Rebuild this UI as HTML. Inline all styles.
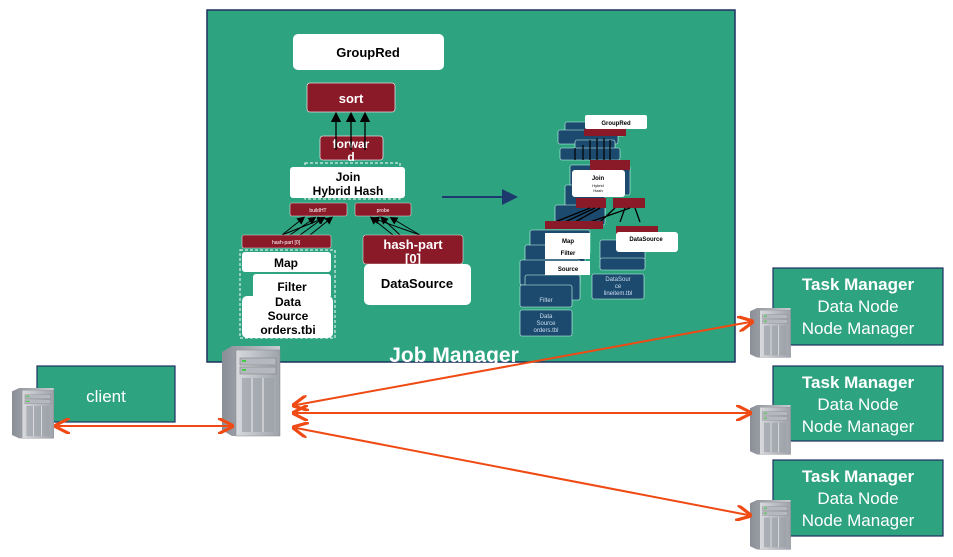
<!DOCTYPE html>
<html><head><meta charset="utf-8"><style>
html,body{margin:0;padding:0;background:#fff;}
svg{display:block;font-family:"Liberation Sans",Arial,sans-serif;}
</style></head><body>
<svg width="953" height="557" viewBox="0 0 953 557" xmlns="http://www.w3.org/2000/svg">
<defs>
<marker id="bk" markerWidth="8" markerHeight="8" refX="4" refY="4" orient="auto"><path d="M0,0 L8,4 L0,8 z" fill="#000"/></marker>
<marker id="or" markerWidth="8" markerHeight="8" refX="6" refY="4" orient="auto-start-reverse"><path d="M0,0 L8,4 L0,8" fill="none" stroke="#f04a14" stroke-width="1.6"/></marker>
<marker id="nv" markerWidth="8" markerHeight="8" refX="6" refY="4" orient="auto"><path d="M0,0 L8,4 L0,8 z" fill="#1d3a6e"/></marker>
<linearGradient id="sv" x1="0" x2="1"><stop offset="0" stop-color="#8a8e96"/><stop offset="1" stop-color="#c8cbd1"/></linearGradient>
<linearGradient id="sf" x1="0" x2="1"><stop offset="0" stop-color="#d8dade"/><stop offset="1" stop-color="#9ea2aa"/></linearGradient>
<g id="server">
<path d="M0,6 L10,0 L58,0 L58,90 L10,90 L0,84 z" fill="url(#sv)"/>
<rect x="14" y="4" width="44" height="86" fill="url(#sf)" stroke="#888" stroke-width="0.5"/>
<rect x="18" y="12" width="36" height="7" fill="#b5b8be" stroke="#777" stroke-width="0.5"/>
<rect x="18" y="21" width="36" height="7" fill="#b5b8be" stroke="#777" stroke-width="0.5"/>
<rect x="20" y="14" width="4" height="2" fill="#4c4"/><rect x="20" y="23" width="4" height="2" fill="#4c4"/>
<rect x="20" y="32" width="32" height="54" fill="#9da1a8" opacity="0.7"/>
<path d="M30,32 V86 M41,32 V86" stroke="#eee" stroke-width="1"/>
</g>
</defs>

<rect x="207" y="10" width="528" height="352" fill="#2ea37f" stroke="#1e3060" stroke-width="1.5"/>

<rect x="293" y="34" width="151" height="36" rx="5" fill="#fff"/>
<text x="368" y="57" font-size="13" font-weight="bold" text-anchor="middle">GroupRed</text>
<rect x="307" y="83" width="88" height="29" rx="3" fill="#8b1a28" stroke="#ddd" stroke-width="0.8"/>
<text x="351" y="103" font-size="13" font-weight="bold" fill="#fff" text-anchor="middle">sort</text>
<rect x="320" y="136" width="63" height="24" rx="3" fill="#8b1a28" stroke="#ddd" stroke-width="0.8"/>
<text x="351" y="148" font-size="12" font-weight="bold" fill="#fff" text-anchor="middle">forwar</text>
<text x="351" y="161" font-size="12" font-weight="bold" fill="#fff" text-anchor="middle">d</text>
<g stroke="#000" stroke-width="1.3" marker-end="url(#bk)"><line x1="336" y1="150" x2="336" y2="117"/><line x1="351" y1="150" x2="351" y2="117"/><line x1="365" y1="150" x2="365" y2="117"/></g>
<rect x="305" y="163" width="95" height="36" fill="none" stroke="#fff" stroke-dasharray="3,2"/>
<rect x="290" y="167" width="115" height="31" rx="3" fill="#fff"/>
<text x="348" y="181" font-size="12" font-weight="bold" text-anchor="middle">Join</text>
<text x="348" y="195" font-size="12" font-weight="bold" text-anchor="middle">Hybrid Hash</text>
<rect x="290" y="203" width="57" height="13" rx="2" fill="#8b1a28" stroke="#ddd" stroke-width="0.6"/>
<text x="318" y="212" font-size="5" fill="#fff" text-anchor="middle">buildHT</text>
<rect x="355" y="203" width="56" height="13" rx="2" fill="#8b1a28" stroke="#ddd" stroke-width="0.6"/>
<text x="383" y="212" font-size="5" fill="#fff" text-anchor="middle">probe</text>
<g stroke="#000" stroke-width="1" marker-end="url(#bk)">
<line x1="282" y1="235" x2="302" y2="219"/><line x1="290" y1="235" x2="313" y2="219"/><line x1="300" y1="235" x2="322" y2="219"/><line x1="310" y1="235" x2="330" y2="219"/><line x1="282" y1="235" x2="322" y2="219"/>
<line x1="393" y1="235" x2="373" y2="219"/><line x1="400" y1="235" x2="383" y2="219"/><line x1="420" y1="235" x2="393" y2="219"/><line x1="420" y1="235" x2="375" y2="219"/>
</g>
<rect x="242" y="235" width="89" height="13" rx="2" fill="#8b1a28" stroke="#ddd" stroke-width="0.6"/>
<text x="286" y="244" font-size="5" fill="#fff" text-anchor="middle">hash-part [0]</text>
<rect x="363" y="235" width="100" height="29" rx="3" fill="#8b1a28" stroke="#ddd" stroke-width="0.6"/>
<text x="413" y="249" font-size="13" font-weight="bold" fill="#fff" text-anchor="middle">hash-part</text>
<text x="413" y="263" font-size="13" font-weight="bold" fill="#fff" text-anchor="middle">[0]</text>
<rect x="364" y="264" width="107" height="41" rx="5" fill="#fff"/>
<text x="417" y="288" font-size="13" font-weight="bold" text-anchor="middle">DataSource</text>
<rect x="240" y="250" width="95" height="88" fill="none" stroke="#fff" stroke-dasharray="3,2"/>
<rect x="242" y="252" width="89" height="20" rx="3" fill="#fff"/>
<text x="286" y="267" font-size="12" font-weight="bold" text-anchor="middle">Map</text>
<rect x="253" y="274" width="78" height="24" rx="3" fill="#fff"/>
<text x="292" y="291" font-size="12" font-weight="bold" text-anchor="middle">Filter</text>
<rect x="242" y="296" width="91" height="42" rx="5" fill="#fff"/>
<text x="288" y="306" font-size="12" font-weight="bold" text-anchor="middle">Data</text>
<text x="288" y="320" font-size="12" font-weight="bold" text-anchor="middle">Source</text>
<text x="288" y="334" font-size="12" font-weight="bold" text-anchor="middle">orders.tbi</text>

<line x1="442" y1="197" x2="514" y2="197" stroke="#1d3a6e" stroke-width="2" marker-end="url(#nv)"/>

<g fill="#1c4a6e" stroke="#cfe" stroke-width="0.6">
<rect x="565" y="122" width="60" height="14" rx="2"/><rect x="558" y="130" width="60" height="14" rx="2"/>
<rect x="575" y="140" width="40" height="12" rx="2"/><rect x="560" y="148" width="60" height="12" rx="2"/>
<rect x="570" y="165" width="60" height="30" rx="2"/><rect x="565" y="185" width="40" height="30" rx="2"/>
<rect x="555" y="205" width="50" height="20" rx="2"/>
<rect x="530" y="230" width="60" height="25" rx="2"/><rect x="525" y="245" width="60" height="25" rx="2"/>
<rect x="520" y="260" width="60" height="25" rx="2"/><rect x="525" y="275" width="55" height="25" rx="2"/>
<rect x="520" y="285" width="52" height="22" rx="2"/><rect x="520" y="310" width="52" height="26" rx="2"/>
<rect x="600" y="240" width="45" height="20" rx="2"/><rect x="600" y="258" width="45" height="12" rx="2"/>
<rect x="592" y="274" width="52" height="25" rx="2"/>
</g>
<g font-size="6" fill="#cde" text-anchor="middle">
<text x="546" y="302">Filter</text><text x="546" y="318">Data</text><text x="546" y="325">Source</text><text x="546" y="332">orders.tbl</text>
<text x="618" y="281">DataSour</text><text x="618" y="288">ce</text><text x="618" y="295">lineitem.tbl</text>
</g>
<rect x="585" y="115" width="62" height="14" rx="2" fill="#fff"/>
<text x="616" y="125" font-size="6" font-weight="bold" text-anchor="middle">GroupRed</text>
<rect x="584" y="129" width="42" height="7" fill="#8b1a28"/>
<g stroke="#000" stroke-width="1.2">
<line x1="575" y1="160" x2="575" y2="148"/><line x1="583" y1="160" x2="583" y2="145"/><line x1="590" y1="160" x2="590" y2="140"/><line x1="597" y1="160" x2="597" y2="138"/><line x1="604" y1="160" x2="604" y2="138"/><line x1="610" y1="160" x2="610" y2="140"/>
</g>
<rect x="590" y="160" width="40" height="10" fill="#8b1a28"/>
<rect x="572" y="170" width="53" height="27" rx="3" fill="#fff"/>
<text x="598" y="180" font-size="6" font-weight="bold" text-anchor="middle">Join</text>
<text x="598" y="187" font-size="4" text-anchor="middle">Hybrid</text><text x="598" y="192" font-size="4" text-anchor="middle">Hash</text>
<rect x="576" y="198" width="30" height="10" fill="#8b1a28"/><rect x="613" y="198" width="32" height="10" fill="#8b1a28"/>
<g stroke="#000" stroke-width="1.3"><path d="M555,222 L590,208 M565,222 L595,208 M575,222 L600,208 M600,222 L615,208 M620,222 L625,208 M640,222 L635,208 M590,222 L630,208"/></g>
<rect x="545" y="221" width="58" height="8" fill="#8b1a28"/><rect x="616" y="226" width="42" height="8" fill="#8b1a28"/>
<rect x="545" y="233" width="45" height="14" fill="#fff"/><text x="568" y="243" font-size="6" font-weight="bold" text-anchor="middle">Map</text>
<rect x="545" y="245" width="45" height="14" fill="#fff"/><text x="568" y="255" font-size="6" font-weight="bold" text-anchor="middle">Filter</text>
<rect x="545" y="261" width="45" height="14" fill="#fff"/><text x="568" y="271" font-size="6" font-weight="bold" text-anchor="middle">Source</text>
<rect x="616" y="232" width="62" height="20" rx="3" fill="#fff"/>
<text x="646" y="241" font-size="6" font-weight="bold" text-anchor="middle">DataSource</text>

<text x="454" y="362" font-size="21" font-weight="bold" fill="#fff" text-anchor="middle">Job Manager</text>

<rect x="37" y="366" width="138" height="56" fill="#2ea37f" stroke="#1e3060" stroke-width="1.2"/>
<text x="106" y="402" font-size="17" fill="#fff" text-anchor="middle">client</text>
<use href="#server" transform="translate(12,388) scale(0.72,0.56)"/>
<use href="#server" transform="translate(222,346)"/>

<g font-size="17" fill="#fff" text-anchor="middle">
<rect x="773" y="268" width="170" height="77" fill="#2ea37f" stroke="#1e3060" stroke-width="1.2"/>
<text x="858" y="290" font-weight="bold">Task Manager</text><text x="858" y="312">Data Node</text><text x="858" y="334">Node Manager</text>
<rect x="773" y="366" width="170" height="75" fill="#2ea37f" stroke="#1e3060" stroke-width="1.2"/>
<text x="858" y="388" font-weight="bold">Task Manager</text><text x="858" y="410">Data Node</text><text x="858" y="432">Node Manager</text>
<rect x="773" y="460" width="170" height="76" fill="#2ea37f" stroke="#1e3060" stroke-width="1.2"/>
<text x="858" y="482" font-weight="bold">Task Manager</text><text x="858" y="504">Data Node</text><text x="858" y="526">Node Manager</text>
</g>
<use href="#server" transform="translate(750,308) scale(0.7,0.55)"/>
<use href="#server" transform="translate(750,405) scale(0.7,0.55)"/>
<use href="#server" transform="translate(750,500) scale(0.7,0.55)"/>

<g stroke="#f04a14" stroke-width="2" marker-start="url(#or)" marker-end="url(#or)">
<line x1="58" y1="426" x2="230" y2="426"/>
<line x1="296" y1="405" x2="750" y2="322"/>
<line x1="296" y1="413" x2="748" y2="413"/>
<line x1="296" y1="428" x2="748" y2="515"/>
</g>
</svg>
</body></html>
